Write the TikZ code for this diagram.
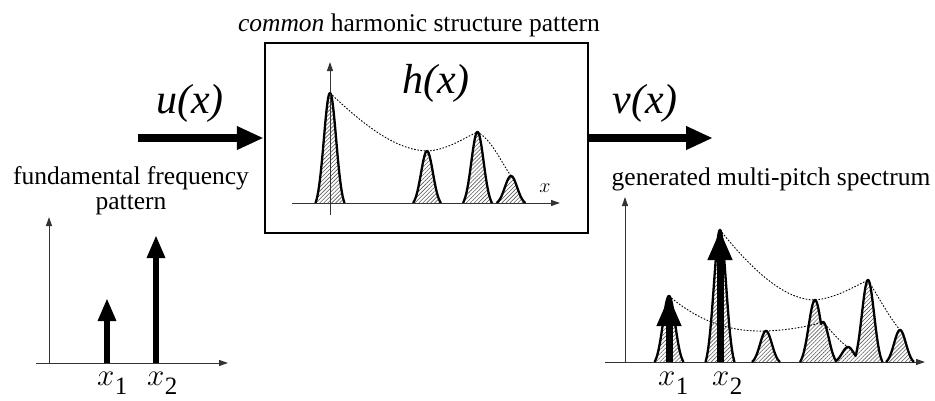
\documentclass[tikz,border=0pt]{standalone}
\usepackage{fix-cm}
\usepackage{fontspec}
\setmainfont{Liberation Serif}
\usetikzlibrary{arrows.meta,patterns.meta}
\newcommand{\xsub}[1]{{\fontsize{31}{31}\selectfont$x$}\kern0.5pt\raisebox{-9.5pt}{\fontsize{25}{25}\selectfont #1}}
\tikzset{
  ax/.style={line width=1pt, draw=black!80, -{Triangle[length=9pt,width=6pt]}},
  bigarrow/.style={line width=8pt, -{Triangle[length=27pt,width=22pt]}},
  spikeL/.style={line width=6pt, -{Triangle[length=23pt,width=17pt]}},
  spikeR/.style={line width=7pt, -{Triangle[length=30pt,width=23pt]}},
  peak/.style={line width=2.3pt, line join=round, pattern={Lines[angle=45,distance=2.8pt,line width=0.6pt]}, pattern color=black!65},
  env/.style={line width=0.9pt, dash pattern=on 1.6pt off 1.6pt},
  lbl/.style={inner sep=0pt, font=\fontsize{25.5}{26}\selectfont},
  fn/.style={inner sep=0pt, font=\fontsize{42}{42}\selectfont\itshape},
  boxst/.style={draw, line width=2.5pt, minimum width=323pt, minimum height=190pt, inner sep=0pt},
}
\begin{document}
\begin{tikzpicture}[x=1pt,y=-1pt,
  declare function={pk(\x,\c,\h,\w)=(abs(\x-\c)<\w)*\h*(exp(-((\x-\c)/(0.6*\w))*((\x-\c)/(0.6*\w)))-0.0622)/0.9378;}]
\useasboundingbox (0,0) rectangle (935,400);

% ---------- central box ----------
\node[boxst] (hbox) at (426.5,138) {};
\node[lbl, anchor=base] (title) at (419,31) {\textit{common} harmonic structure pattern};
\node[fn, anchor=base] (hlab) at (436,93) {h(x)};

% axes in box
\coordinate (hy0) at (330,215); \coordinate (hy1) at (330,62);
\coordinate (hx0) at (292,203); \coordinate (hx1) at (560,203);
\draw[peak] plot[domain=315.5:344.5, samples=80] (\x,{203-pk(\x,330,110,14.5)});
\draw[peak] plot[domain=413:441, samples=60] (\x,{203-pk(\x,427,52,14)});
\draw[peak] plot[domain=463:492, samples=60] (\x,{203-pk(\x,477.5,71,14.5)});
\draw[peak] plot[domain=496.5:525.5, samples=60] (\x,{203-pk(\x,511,27,14.5)});
\draw[ax] (hy0) -- (hy1);
\draw[ax] (hx0) -- (hx1);
\node[inner sep=0pt, font=\fontsize{20}{20}\selectfont] (hxl) at (545,188) {$x$};
\coordinate (e1) at (330,93); \coordinate (e2) at (427,151);
\coordinate (e3) at (477.5,132); \coordinate (e4) at (511,176);
\draw[env] (e1) .. controls (372,133) and (400,150) .. (e2)
  .. controls (447,150) and (462,139) .. (e3)
  .. controls (492,140) and (501,162) .. (e4);

% ---------- in/out arrows ----------
\coordinate (uin) at (138,138);
\coordinate (vout) at (713,138);
\draw[bigarrow] (uin) -- (hbox.west);
\draw[bigarrow] (hbox.east) -- (vout);
\node[fn, anchor=base] (ulab) at (190,113) {u(x)};
\node[fn, anchor=base] (vlab) at (645,113) {v(x)};

% ---------- left plot ----------
\node[lbl, anchor=base] (ff1) at (131,184) {fundamental frequency};
\node[lbl, anchor=base] (ff2) at (131,209) {pattern};
\coordinate (ly0) at (49,363); \coordinate (ly1) at (49,217);
\coordinate (lx0) at (36,363); \coordinate (lx1) at (228,363);
\draw[ax] (ly0) -- (ly1);
\draw[ax] (lx0) -- (lx1);
\coordinate (l1b) at (107,363); \coordinate (l1t) at (107,298);
\coordinate (l2b) at (156,363); \coordinate (l2t) at (156,235);
\draw[spikeL] (l1b) -- (l1t);
\draw[spikeL] (l2b) -- (l2t);
\node[inner sep=0pt, anchor=base west] (lx1lab) at (97,385) {\xsub{1}};
\node[inner sep=0pt, anchor=base west] (lx2lab) at (147,385) {\xsub{2}};

% ---------- right plot ----------
\node[lbl, anchor=base] (gen) at (771,185) {generated multi-pitch spectrum};
\coordinate (ry0) at (625,362); \coordinate (ry1) at (625,197);
\coordinate (rx0) at (605,362); \coordinate (rx1) at (925,362);
\draw[ax] (ry0) -- (ry1);
\draw[ax] (rx0) -- (rx1);
\draw[peak] plot[domain=654.5:683.5, samples=60] (\x,{362-pk(\x,669,66,14.5)});
\draw[peak] plot[domain=705.5:734.5, samples=80] (\x,{362-pk(\x,720,132,14.5)});
\draw[peak] plot[domain=752:780, samples=60] (\x,{362-pk(\x,766,31,14)});
\draw[peak] plot[domain=800:882.5, samples=200]
  (\x,{362-max(pk(\x,815,62,15),pk(\x,823,40,14),pk(\x,848,15,14),pk(\x,868,82,14.5))});
\draw[peak] plot[domain=886:914, samples=60] (\x,{362-pk(\x,900,32,14)});
\coordinate (a1) at (669,296); \coordinate (a2) at (766,331);
\coordinate (a3) at (823,322); \coordinate (a4) at (848,347);
\draw[env] (a1) .. controls (700,322) and (730,332) .. (a2)
  .. controls (790,330) and (810,326) .. (a3)
  .. controls (832,332) and (840,342) .. (a4);
\coordinate (b1) at (720,230); \coordinate (b2) at (815,300);
\coordinate (b3) at (868,280); \coordinate (b4) at (900,330);
\draw[env] (b1) .. controls (760,280) and (790,300) .. (b2)
  .. controls (835,298) and (852,288) .. (b3)
  .. controls (880,300) and (890,318) .. (b4);
\coordinate (r1b) at (669,362); \coordinate (r1t) at (669,296);
\coordinate (r2b) at (720,362); \coordinate (r2t) at (720,230);
\draw[spikeR] (r1b) -- (r1t);
\draw[spikeR] (r2b) -- (r2t);
\node[inner sep=0pt, anchor=base west] (rx1lab) at (658,385) {\xsub{1}};
\node[inner sep=0pt, anchor=base west] (rx2lab) at (712,385) {\xsub{2}};
\end{tikzpicture}
\end{document}
